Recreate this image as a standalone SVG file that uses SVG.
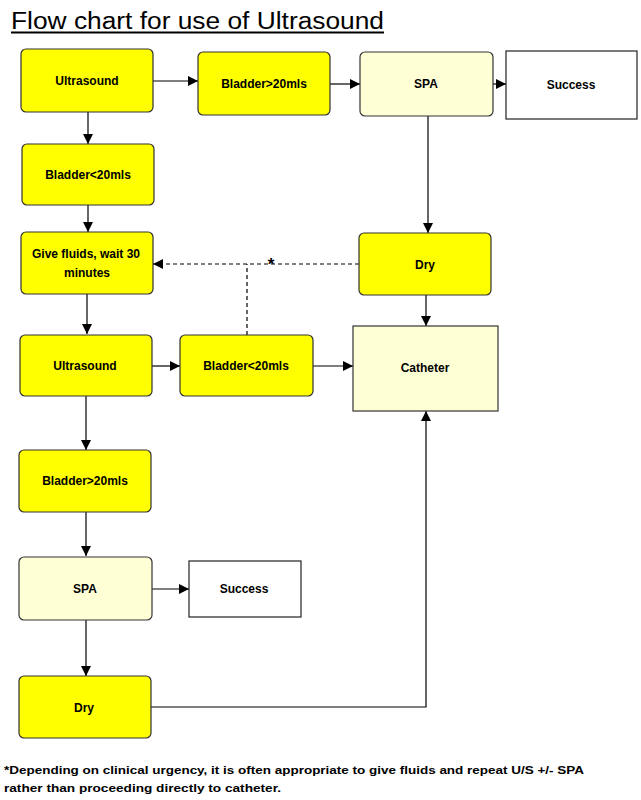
<svg xmlns="http://www.w3.org/2000/svg" width="641" height="800" viewBox="0 0 641 800">
<defs>
<marker id="ah" markerWidth="10" markerHeight="10" refX="10" refY="5" orient="auto" markerUnits="userSpaceOnUse">
<path d="M0,0 L10,5 L0,10 Z" fill="#000"/>
</marker>
<style>
.y{fill:#ffff00;stroke:#333;stroke-width:1.2}
.ly{fill:#ffffd6;stroke:#333;stroke-width:1.2}
.w{fill:#fff;stroke:#222;stroke-width:1.2}
.t{font-family:"Comic Sans MS","Liberation Sans",sans-serif;font-size:12px;font-weight:bold;fill:#000;text-anchor:middle}
.c{fill:none;stroke:#000;stroke-width:1.2}
.a{marker-end:url(#ah)}
.d{stroke-dasharray:4,3}
.n{font-family:"Comic Sans MS","Liberation Sans",sans-serif;font-size:11.5px;font-weight:bold;fill:#000}
</style>
</defs>
<rect width="641" height="800" fill="#fff"/>
<text x="11" y="29" font-family="'Comic Sans MS','Liberation Sans',sans-serif" font-size="23" fill="#000" textLength="373" lengthAdjust="spacingAndGlyphs">Flow chart for use of Ultrasound</text>
<line x1="11" y1="32.5" x2="384" y2="32.5" stroke="#000" stroke-width="2"/>

<g id="connectors">
<line class="c a" x1="153" y1="81" x2="198" y2="81"/>
<line class="c a" x1="330" y1="84" x2="360" y2="84"/>
<line class="c a" x1="493" y1="84" x2="506" y2="84"/>
<line class="c a" x1="88" y1="112" x2="88" y2="144"/>
<line class="c a" x1="88" y1="205" x2="88" y2="232"/>
<line class="c a" x1="428" y1="116" x2="428" y2="233"/>
<line class="c a" x1="426" y1="295" x2="426" y2="326"/>
<line class="c a d" x1="359" y1="264" x2="153" y2="264"/>
<line class="c d" x1="247" y1="335" x2="247" y2="264"/>
<line class="c a" x1="87" y1="294" x2="87" y2="334"/>
<line class="c a" x1="152" y1="366" x2="180" y2="366"/>
<line class="c a" x1="313" y1="366" x2="353" y2="366"/>
<line class="c a" x1="86" y1="396" x2="86" y2="450"/>
<line class="c a" x1="86" y1="512" x2="86" y2="556"/>
<line class="c a" x1="152" y1="589" x2="189" y2="589"/>
<line class="c a" x1="86" y1="620" x2="86" y2="676"/>
<polyline class="c a" points="151,707 426,707 426,411"/>
<text x="271" y="270" font-family="'Liberation Sans',sans-serif" font-size="17" font-weight="bold" text-anchor="middle" fill="#000">*</text>
</g>

<g id="ultrasound1"><rect class="y" x="21" y="49" width="132" height="63" rx="5"/><text class="t" x="87" y="85">Ultrasound</text></g>
<g id="bladder_gt20_1"><rect class="y" x="198" y="52" width="132" height="63" rx="5"/><text class="t" x="264" y="88">Bladder&gt;20mls</text></g>
<g id="spa1"><rect class="ly" x="360" y="52" width="133" height="64" rx="5"/><text class="t" x="426" y="88">SPA</text></g>
<g id="success1"><rect class="w" x="506" y="51" width="131" height="68"/><text class="t" x="571" y="89">Success</text></g>
<g id="bladder_lt20_1"><rect class="y" x="22" y="144" width="132" height="61" rx="5"/><text class="t" x="88" y="179">Bladder&lt;20mls</text></g>
<g id="give_fluids"><rect class="y" x="21" y="232" width="132" height="62" rx="5"/><text class="t" x="86" y="258">Give fluids, wait 30</text><text class="t" x="87" y="277">minutes</text></g>
<g id="dry1"><rect class="y" x="359" y="233" width="132" height="62" rx="5"/><text class="t" x="425" y="269">Dry</text></g>
<g id="ultrasound2"><rect class="y" x="20" y="335" width="132" height="61" rx="5"/><text class="t" x="85" y="370">Ultrasound</text></g>
<g id="bladder_lt20_2"><rect class="y" x="180" y="335" width="133" height="61" rx="5"/><text class="t" x="246" y="370">Bladder&lt;20mls</text></g>
<g id="catheter"><rect class="ly" x="353" y="326" width="145" height="85"/><text class="t" x="425" y="372">Catheter</text></g>
<g id="bladder_gt20_2"><rect class="y" x="19" y="450" width="132" height="62" rx="5"/><text class="t" x="85" y="485">Bladder&gt;20mls</text></g>
<g id="spa2"><rect class="ly" x="19" y="557" width="133" height="63" rx="5"/><text class="t" x="85" y="593">SPA</text></g>
<g id="success2"><rect class="w" x="189" y="561" width="112" height="56"/><text class="t" x="244" y="593">Success</text></g>
<g id="dry2"><rect class="y" x="19" y="676" width="132" height="62" rx="5"/><text class="t" x="84" y="712">Dry</text></g>

<text class="n" x="4" y="774" textLength="580" lengthAdjust="spacingAndGlyphs">*Depending on clinical urgency, it is often appropriate to give fluids and repeat U/S +/- SPA</text>
<text class="n" x="4" y="792" textLength="277" lengthAdjust="spacingAndGlyphs">rather than proceeding directly to catheter.</text>
</svg>
